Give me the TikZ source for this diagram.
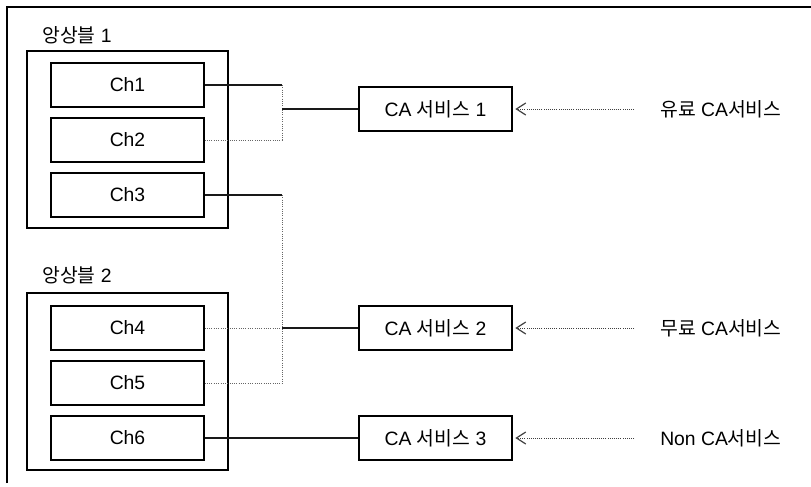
\documentclass[tikz,border=0pt]{standalone}
\usepackage{fontspec}
\setmainfont{Liberation Sans}
\newfontfamily\kr{Noto Sans CJK KR}
\usetikzlibrary{arrows.meta}
\tikzset{
  box/.style={draw=black, line width=1pt, minimum width=114.75pt, minimum height=33pt, inner sep=0pt, font=\fontsize{14.5}{17}\selectfont},
  grp/.style={draw=black, line width=1pt, minimum width=150.75pt, minimum height=132.75pt, inner sep=0pt},
  lbl/.style={anchor=west, inner sep=0pt, font=\fontsize{14.5}{17}\selectfont},
  wire/.style={draw=black!90, line width=0.8pt},
  gwire/.style={draw=black!60, line width=0.7pt, densely dotted},
  feed/.style={draw=black!75, line width=0.6pt, densely dotted, -{Straight Barb[length=7pt,width=9pt,line width=0.9pt]}, shorten >=2pt, shorten <=19.5pt}
}
\begin{document}
\begin{tikzpicture}[x=0.75pt,y=-0.75pt]
\useasboundingbox (0,0) rectangle (811,486);
% frame
\coordinate (fA) at (7,483);
\coordinate (fB) at (7,7);
\coordinate (fC) at (811,7);
\draw[line width=0.9pt] (fA) -- (fB) -- (fC);

% ensembles
\node[lbl] (e1l) at (42,35) {{\kr 앙상블} 1};
\node[grp] (e1) at (127.5,139.5) {};
\node[lbl] (e2l) at (42,275) {{\kr 앙상블} 2};
\node[grp] (e2) at (127.5,381.5) {};

% channels
\node[box] (ch1) at (127.5,85) {Ch1};
\node[box] (ch2) at (127.5,140) {Ch2};
\node[box] (ch3) at (127.5,195) {Ch3};
\node[box] (ch4) at (127.5,328) {Ch4};
\node[box] (ch5) at (127.5,383) {Ch5};
\node[box] (ch6) at (127.5,438) {Ch6};

% CA services
\node[box] (ca1) at (435.5,109) {CA {\kr 서비스} 1};
\node[box] (ca2) at (435.5,328) {CA {\kr 서비스} 2};
\node[box] (ca3) at (435.5,438) {CA {\kr 서비스} 3};

% labels
\node[lbl] (l1) at (660,109) {{\kr 유료} CA{\kr 서비스}};
\node[lbl] (l2) at (660,328) {{\kr 무료} CA{\kr 서비스}};
\node[lbl] (l3) at (660,438) {Non CA{\kr 서비스}};

% junctions
\coordinate (j1) at (282,109);
\coordinate (j2) at (282,328);

% Ch1/Ch2 -> CA1
\draw[wire] (ch1.east) -- (ch1.east -| j1);
\draw[gwire] (ch1.east -| j1) -- (ch2.east -| j1);
\draw[gwire] (ch2.east) -- (ch2.east -| j1);
\draw[wire] (j1) -- (ca1.west);

% Ch3/Ch4/Ch5 -> CA2
\draw[wire] (ch3.east) -- (ch3.east -| j2);
\draw[gwire] (ch3.east -| j2) -- (ch5.east -| j2);
\draw[gwire] (ch5.east) -- (ch5.east -| j2);
\draw[gwire] (ch4.east) -- (j2);
\draw[wire] (j2) -- (ca2.west);

% Ch6 -> CA3
\draw[wire] (ch6.east) -- (ca3.west);

% feeds
\draw[feed] (l1.west) -- (ca1.east);
\draw[feed] (l2.west) -- (ca2.east);
\draw[feed] (l3.west) -- (ca3.east);
\end{tikzpicture}
\end{document}
